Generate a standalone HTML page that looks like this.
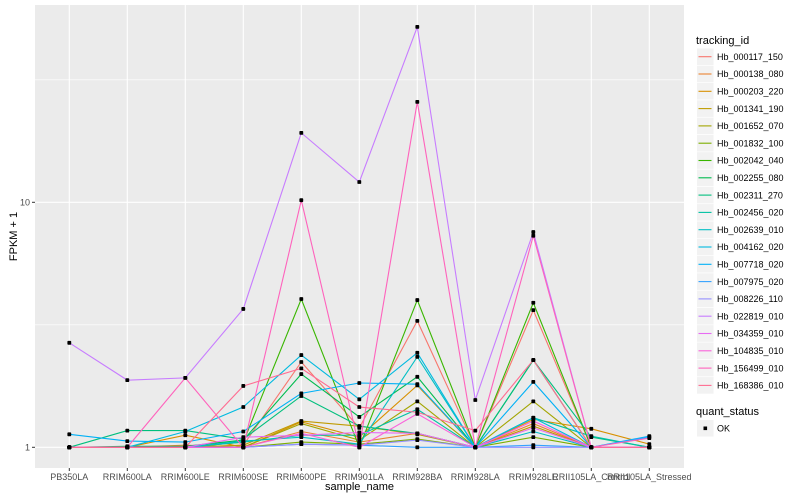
<!DOCTYPE html>
<html><head><meta charset="utf-8"><style>
body{margin:0;background:#fff;}
svg{display:block;font-family:"Liberation Sans",sans-serif;}
</style></head><body>
<svg id="chart" width="800" height="500"></svg>
<script>
const categories=["PB350LA","RRIM600LA","RRIM600LE","RRIM600SE","RRIM600PE","RRIM901LA","RRIM928BA","RRIM928LA","RRIM928LE","RRII105LA_Control","RRII105LA_Stressed"];
const seriesNames=["Hb_000117_150","Hb_000138_080","Hb_000203_220","Hb_001341_190","Hb_001652_070","Hb_001832_100","Hb_002042_040","Hb_002255_080","Hb_002311_270","Hb_002456_020","Hb_002639_010","Hb_004162_020","Hb_007718_020","Hb_007975_020","Hb_008226_110","Hb_022819_010","Hb_034359_010","Hb_104835_010","Hb_156499_010","Hb_168386_010"];
const colors=["#F8766D","#EA8331","#D89000","#C09B00","#A3A500","#7CAE00","#39B600","#00BB4E","#00BF7D","#00C1A3","#00BFC4","#00BAE0","#00B0F6","#35A2FF","#9590FF","#C77CFF","#E76BF3","#FA62DB","#FF62BC","#FF6C91"];
const s00=[1,1,1,1.02,2.23,1.2,3.28,1,3.63,1,1];
const s01=[1,1,1.02,1,1.16,1.05,1.14,1,1.25,1,1];
const s02=[1,1,1.12,1,1.27,1.1,1.79,1,1.3,1.19,1.03];
const s03=[1,1,1,1.02,1.28,1.22,1.13,1,1.22,1,1];
const s04=[1,1,1,1,1.25,1.07,1.54,1,1.54,1,1];
const s05=[1,1,1,1,1.05,1.03,1.08,1,1.1,1,1];
const s06=[1,1,1,1.05,4.03,1.0,3.99,1,3.89,1,1];
const s07=[1,1.01,1.01,1.07,1.99,1.33,1.94,1,2.27,1,1];
const s08=[1,1.17,1.17,1.08,1.62,1.22,1.14,1,2.27,1.1,1];
const s09=[1,1,1,1.05,1.12,1.12,1.43,1,1.32,1.11,1];
const s10=[1,1,1,1.06,1.1,1.03,2.34,1,1.16,1,1];
const s11=[1,1,1.16,1.46,2.38,1.57,2.43,1,1.32,1,1];
const s12=[1.13,1.06,1.05,1.16,1.66,1.83,1.81,1,1.85,1,1.11];
const s13=[1,1,1,1,1.03,1.02,1.0,1,1.02,1,1.1];
const s14=[1,1,1,1,1.03,1.02,1.07,1,1.0,1,1];
const s15=[2.67,1.88,1.92,3.67,19.2,12.1,52,1.56,7.56,1,1];
const s16=[1,1,1,1.1,1.12,1.15,1.14,1,1.2,1,1];
const s17=[1,1,1,1.0,1.14,1.0,1.37,1,1.28,1,1];
const s18=[1,1,1.92,1,10.2,1.0,25.7,1,7.3,1,1.09];
const s19=[1,1,1,1.78,2.1,1.46,1.39,1.17,2.27,1,1];
const seriesValues=[s00,s01,s02,s03,s04,s05,s06,s07,s08,s09,s10,s11,s12,s13,s14,s15,s16,s17,s18,s19];
const yTicks=[1,10];
const yTickLabels=["1","10"];
const yMinor=[Math.sqrt(10),Math.pow(10,1.5)];

const NS="http://www.w3.org/2000/svg";
const svg=document.getElementById('chart');
function mk(tag,attrs,parent){const e=document.createElementNS(NS,tag);for(const k in attrs)e.setAttribute(k,attrs[k]);(parent||svg).appendChild(e);return e;}
const P={l:35,r:684,t:5,b:468};
const xStep=58, x0=69.3;
function xs(i){return x0+i*xStep;}
function ys(v){return 447.3-Math.log10(v)*245;}

const panel=mk('rect',{x:P.l,y:P.t,width:P.r-P.l,height:P.b-P.t,fill:'#ebebeb'});


yMinor.forEach(v=>{const g=mk('line',{x1:P.l,x2:P.r,y1:ys(v),y2:ys(v),stroke:'#fff','stroke-width':0.6});

});
yTicks.forEach((v,i)=>{const g=mk('line',{x1:P.l,x2:P.r,y1:ys(v),y2:ys(v),stroke:'#fff','stroke-width':1.1});


const t=mk('line',{x1:P.l-3,x2:P.l,y1:ys(v),y2:ys(v),stroke:'#333','stroke-width':1});


const l=mk('text',{x:P.l-5,y:ys(v)+3,'text-anchor':'end','font-size':9,fill:'#4d4d4d'});l.textContent=yTickLabels[i];

});
categories.forEach((c,i)=>{const g=mk('line',{x1:xs(i),x2:xs(i),y1:P.t,y2:P.b,stroke:'#fff','stroke-width':1.1});


const t=mk('line',{x1:xs(i),x2:xs(i),y1:P.b,y2:P.b+3,stroke:'#333','stroke-width':1});


const l=mk('text',{x:xs(i),y:P.b+12,'text-anchor':'middle','font-size':9,fill:'#4d4d4d'});l.textContent=c;

});
seriesValues.forEach((vals,si)=>{const p=mk('polyline',{points:vals.map((v,i)=>xs(i)+','+ys(v)).join(' '),fill:'none',stroke:colors[si],'stroke-width':1.1});

});
seriesValues.forEach((vals,si)=>{vals.forEach((v,i)=>{const r=mk('rect',{x:xs(i)-1.9,y:ys(v)-1.9,width:3.8,height:3.8,rx:0.8,fill:'#000'});

});});
const xt=mk('text',{x:(P.l+P.r)/2,y:490,'text-anchor':'middle','font-size':11,fill:'#000'});xt.textContent='sample_name';


const yt=mk('text',{x:0,y:0,transform:'translate(17,'+((P.t+P.b)/2)+') rotate(-90)','text-anchor':'middle','font-size':11,fill:'#000'});yt.textContent='FPKM + 1';


const lt=mk('text',{x:696,y:44,'font-size':11,fill:'#000'});lt.textContent='tracking_id';


seriesNames.forEach((n,i)=>{const cy=56.7+i*17.3;
const g=mk('g',{});


mk('rect',{x:697,y:cy-8.3,width:16.6,height:16.6,fill:'#f2f2f2'},g);
mk('line',{x1:698.5,x2:711.5,y1:cy,y2:cy,stroke:colors[i],'stroke-width':1.1},g);
const t=mk('text',{x:717,y:cy+3.2,'font-size':9,fill:'#000'},g);t.textContent=n;});
const qt=mk('text',{x:696,y:415,'font-size':11,fill:'#000'});qt.textContent='quant_status';


const qg=mk('g',{});


mk('rect',{x:697,y:420,width:16.6,height:16.6,fill:'#f2f2f2'},qg);
mk('rect',{x:703.5,y:426.5,width:3.6,height:3.6,fill:'#000'},qg);
const qk=mk('text',{x:717,y:431.5,'font-size':9,fill:'#000'},qg);qk.textContent='OK';
</script>
</body></html>
